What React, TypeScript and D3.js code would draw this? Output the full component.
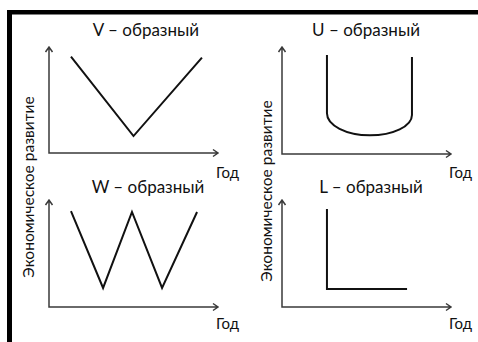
import React, { useEffect, useRef } from "react";
import * as d3 from "d3";

// подписи
const panelTitles = ["V – образный", "U – образный", "W – образный", "L – образный"];
const xAxisLabel = "Год";
const yAxisLabel = "Экономическое развитие";

// формы кривых (год 0..10, уровень 0..10)
const vYears = [1.3, 5.0, 9.05];
const vLevels = [9.1, 1.6, 9.0];

// U: верх слева, изгиб слева, дно, изгиб справа, верх справа
const uYears = [2.66, 2.66, 5.2, 7.69, 7.69];
const uLevels = [9.25, 3.8, 1.75, 3.65, 9.07];

const wYears = [1.3, 3.2, 4.91, 6.69, 8.76];
const wLevels = [8.97, 1.78, 8.88, 1.78, 8.88];

const lYears = [2.66, 2.66, 7.4];
const lLevels = [9.16, 1.68, 1.68];

const W = 478;
const H = 342;

// положение осей каждой панели: x0 — ось Y, x1 — конец стрелки, y0 — ось X, y1 — верх стрелки
const panels = [
  { x0: 49, x1: 218, y0: 153, y1: 47, titleX: 146, titleY: 36, labelY: 178 },
  { x0: 282, x1: 451, y0: 154, y1: 47, titleX: 366, titleY: 36, labelY: 178 },
  { x0: 49, x1: 218, y0: 307, y1: 200, titleX: 148, titleY: 193, labelY: 329 },
  { x0: 282, x1: 451, y0: 307, y1: 200, titleX: 371, titleY: 193, labelY: 329 },
];

const FONT = "Lato, 'Open Sans', sans-serif";

const App = () => {
  const ref = useRef<SVGSVGElement | null>(null);

  useEffect(() => {
    const svg = d3.select(ref.current);
    svg.selectAll("*").remove();

    svg.append("rect").attr("width", W).attr("height", H).attr("fill", "#fff");

    // рамка слева и сверху
    svg.append("rect").attr("x", 7).attr("y", 10).attr("width", W - 7).attr("height", 4.5).attr("fill", "#000");
    svg.append("rect").attr("x", 7).attr("y", 10).attr("width", 5).attr("height", H - 10).attr("fill", "#000");

    const shapes = [
      { years: vYears, levels: vLevels, kind: "line" },
      { years: uYears, levels: uLevels, kind: "u" },
      { years: wYears, levels: wLevels, kind: "line" },
      { years: lYears, levels: lLevels, kind: "line" },
    ];

    panels.forEach((p, i) => {
      const x = d3.scaleLinear().domain([0, 10]).range([p.x0, p.x1]);
      const y = d3.scaleLinear().domain([0, 10]).range([p.y0, p.y1]);
      const g = svg.append("g");

      // оси со стрелками
      const axis = d3.path();
      axis.moveTo(x(0), y(10));
      axis.lineTo(x(0), y(0));
      axis.lineTo(x(10), y(0));
      axis.moveTo(x(0) - 3.5, y(10) + 5);
      axis.lineTo(x(0), y(10));
      axis.lineTo(x(0) + 3.5, y(10) + 5);
      axis.moveTo(x(10) - 5, y(0) - 3.5);
      axis.lineTo(x(10), y(0));
      axis.lineTo(x(10) - 5, y(0) + 3.5);
      g.append("path")
        .attr("d", axis.toString())
        .attr("fill", "none")
        .attr("stroke", "#3a3a3a")
        .attr("stroke-width", 1.5);

      const s = shapes[i];
      const pts = s.years.map((t, k) => [x(t), y(s.levels[k])] as [number, number]);
      let d: string;
      if (s.kind === "u") {
        const k = 0.5523;
        const [lt, lb, bt, rb, rt] = pts;
        const path = d3.path();
        path.moveTo(lt[0], lt[1]);
        path.lineTo(lb[0], lb[1]);
        path.bezierCurveTo(lb[0], lb[1] + k * (bt[1] - lb[1]), bt[0] - k * (bt[0] - lb[0]), bt[1], bt[0], bt[1]);
        path.bezierCurveTo(bt[0] + k * (rb[0] - bt[0]), bt[1], rb[0], rb[1] + k * (bt[1] - rb[1]), rb[0], rb[1]);
        path.lineTo(rt[0], rt[1]);
        d = path.toString();
      } else {
        d = d3.line()(pts) || "";
      }
      g.append("path")
        .attr("d", d)
        .attr("fill", "none")
        .attr("stroke", "#111")
        .attr("stroke-width", 2)
        .attr("stroke-linejoin", "miter");

      g.append("text")
        .attr("x", p.titleX)
        .attr("y", p.titleY)
        .attr("text-anchor", "middle")
        .attr("font-family", FONT)
        .attr("font-size", 17)
        .attr("fill", "#111")
        .text(panelTitles[i]);

      g.append("text")
        .attr("x", x(10) - 2)
        .attr("y", p.labelY)
        .attr("font-family", FONT)
        .attr("font-size", 15)
        .attr("fill", "#111")
        .text(xAxisLabel);
    });

    // общие подписи оси Y
    [
      { x: 33.5, y: 187 },
      { x: 272, y: 191 },
    ].forEach((l) => {
      svg.append("text")
        .attr("transform", `translate(${l.x},${l.y}) rotate(-90)`)
        .attr("text-anchor", "middle")
        .attr("font-family", FONT)
        .attr("font-size", 15.5)
        .attr("fill", "#111")
        .text(yAxisLabel);
    });
  }, []);

  return (
    <svg
      ref={ref}
      width={W}
      height={H}
      style={{ position: "absolute", left: 0, top: 0, display: "block" }}
    ></svg>
  );
};

export default App;
